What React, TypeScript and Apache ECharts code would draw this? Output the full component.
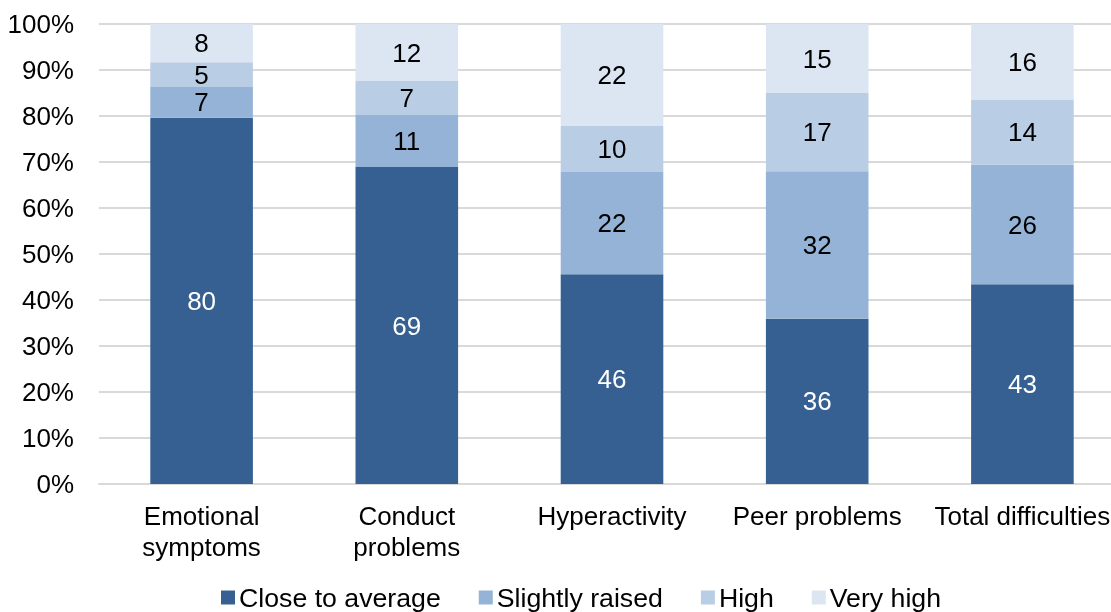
import React, { useEffect, useRef } from "react";
import * as echarts from "echarts";

const categories = ["Emotional\nsymptoms", "Conduct\nproblems", "Hyperactivity", "Peer problems", "Total difficulties"];
const closeToAverage = [79.6, 68.9, 45.6, 35.9, 43.4];
const slightlyRaised = [6.7, 11.3, 22.2, 32.1, 26.0];
const high = [5.4, 7.4, 10.0, 17.0, 14.2];
const veryHigh = [8.3, 12.4, 22.2, 15.0, 16.4];
const seriesNames = ["Close to average", "Slightly raised", "High", "Very high"];
const colors = ["#376092", "#95B3D7", "#B9CDE5", "#DCE6F2"];
const labelColors = ["#ffffff", "#000000", "#000000", "#000000"];

export default function App() {
  const ref = useRef<HTMLDivElement>(null);
  useEffect(() => {
    const chart = echarts.init(ref.current!, null, { renderer: "svg" });
    const font = "'Liberation Sans', Arial, sans-serif";
    const fs = 26;
    const data = [closeToAverage, slightlyRaised, high, veryHigh];
    chart.setOption({
      animation: false,
      textStyle: { fontFamily: font },
      grid: { left: 99, right: 0, top: 24, bottom: 128 },
      legend: {
        bottom: -4,
        left: 216,
        itemWidth: 14,
        itemHeight: 14,
        itemGap: 38,
        icon: "rect",
        textStyle: { fontSize: 26.7, color: "#000", fontFamily: font, padding: [0, 0, 0, -1] },
        data: seriesNames,
      },
      xAxis: {
        type: "category",
        data: categories,
        axisLine: { lineStyle: { color: "#d9d9d9", width: 2 } },
        axisTick: { show: false },
        axisLabel: { fontSize: fs, color: "#000", fontFamily: font, margin: 16, lineHeight: 31, interval: 0 },
      },
      yAxis: {
        type: "value",
        min: 0,
        max: 100,
        interval: 10,
        axisLine: { show: false },
        axisTick: { show: false },
        splitLine: { lineStyle: { color: "#d9d9d9", width: 2 } },
        axisLabel: { fontSize: fs, color: "#000", fontFamily: font, margin: 25, formatter: "{value}%" },
      },
      series: seriesNames.map((name, i) => ({
        name,
        type: "bar",
        stack: "total",
        barWidth: "50%",
        data: data[i],
        itemStyle: { color: colors[i] },
        label: {
          show: true,
          position: "inside",
          fontSize: fs,
          fontFamily: font,
          color: labelColors[i],
          formatter: (p: any) => String(Math.round(p.value)),
        },
      })),
    });
    return () => chart.dispose();
  }, []);
  return (
    <div style={{ position: "fixed", left: 0, top: 0, width: 1111, height: 612, overflow: "hidden" }}>
      <div ref={ref} style={{ width: 1125, height: 612 }} />
    </div>
  );
}
